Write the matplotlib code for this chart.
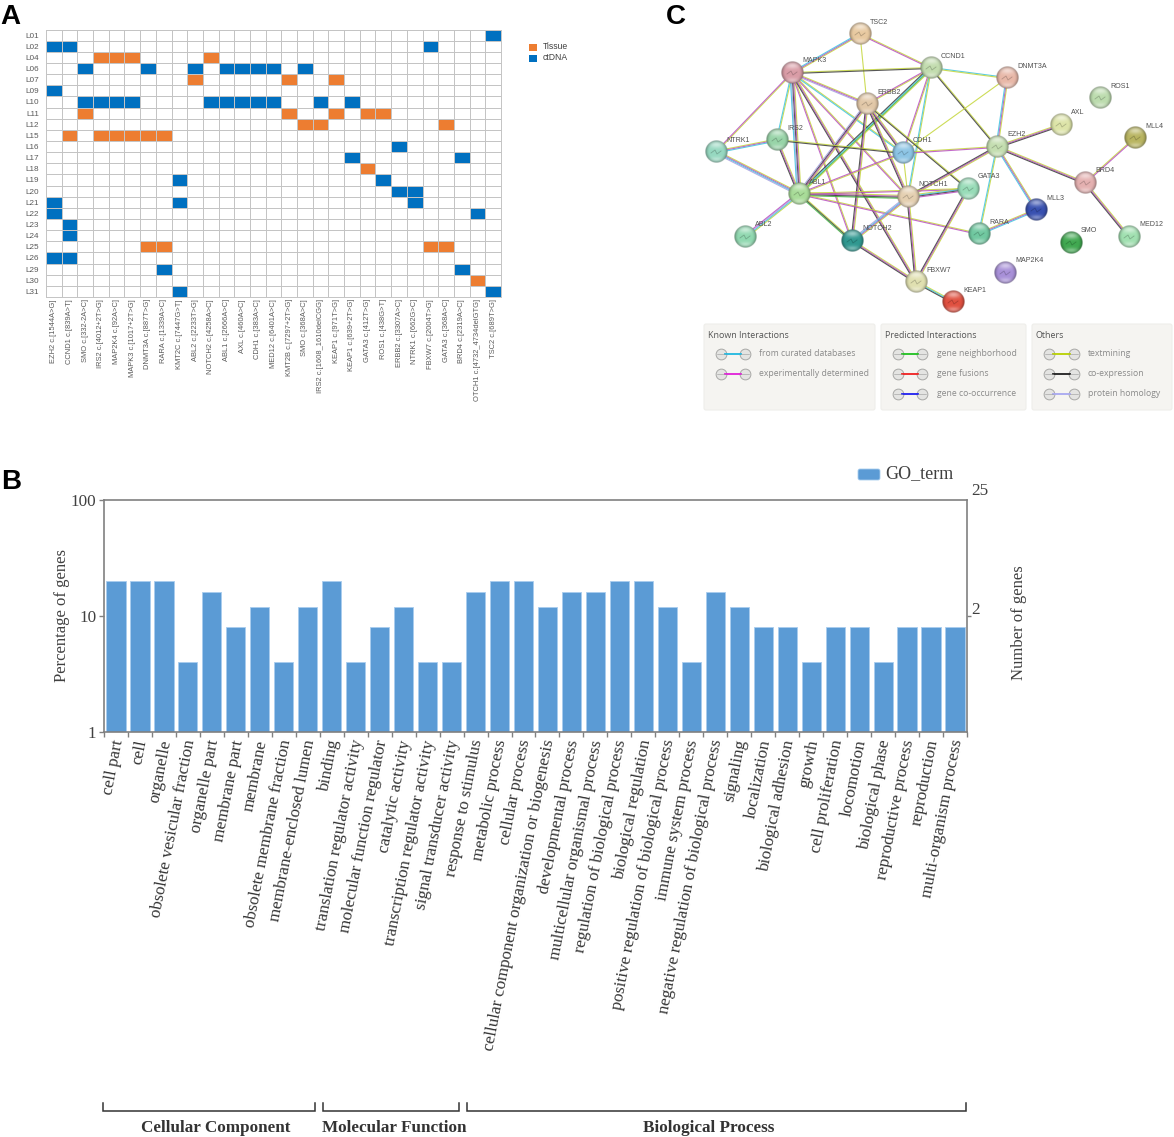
#!/usr/bin/env python3
"""Three panel figure: mutation heatmap, STRING style network, GO term bars."""
import numpy as np
import matplotlib
matplotlib.use("Agg")
import matplotlib.pyplot as plt
from matplotlib.colors import ListedColormap, to_rgb
from matplotlib.patches import FancyBboxPatch, Rectangle

W, H = 1174, 1137

# panel A
samples = ["L01", "L02", "L04", "L06", "L07", "L09", "L10", "L11", "L12", "L15", "L16", "L17",
           "L18", "L19", "L20", "L21", "L22", "L23", "L24", "L25", "L26", "L29", "L30", "L31"]
variants = ["EZH2 c.[1544A>G]", "CCND1 c.[839A>T]", "SMO c.[332-2A>C]", "IRS2 c.[4012+2T>G]",
            "MAP2K4 c.[92A>C]", "MAPK3 c.[1017+2T>G]", "DNMT3A c.[887T>G]", "RARA c.[1339A>C]",
            "KMT2C c.[7447G>T]", "ABL2 c.[2233T>G]", "NOTCH2 c.[4258A>C]", "ABL1 c.[2666A>C]",
            "AXL c.[460A>C]", "CDH1 c.[383A>C]", "MED12 c.[6401A>C]", "KMT2B c.[7297+2T>G]",
            "SMO c.[368A>C]", "IRS2 c.[1608_1610delCGG]", "KEAP1 c.[971T>G]", "KEAP1 c.[639+2T>G]",
            "GATA3 c.[412T>G]", "ROS1 c.[438G>T]", "ERBB2 c.[3307A>C]", "NTRK1 c.[662G>C]",
            "FBXW7 c.[2004T>G]", "GATA3 c.[368A>C]", "BRD4 c.[2319A>C]", "OTCH1 c.[4732_4734delGTG]",
            "TSC2 c.[689T>G]"]
tissue = {"L04": [3, 4, 5, 10], "L07": [9, 15, 18], "L11": [2, 15, 18, 20, 21],
          "L12": [16, 17, 25], "L15": [1, 3, 4, 5, 6, 7], "L18": [20], "L25": [6, 7, 24, 25],
          "L30": [27]}
ctdna = {"L01": [28], "L02": [0, 1, 24], "L06": [2, 6, 9, 11, 12, 13, 14, 16], "L09": [0],
         "L10": [2, 3, 4, 5, 10, 11, 12, 13, 14, 17, 19], "L16": [22], "L17": [19, 26],
         "L19": [8, 21], "L20": [22, 23], "L21": [0, 8, 23], "L22": [0, 27], "L23": [1],
         "L24": [1], "L26": [0, 1], "L29": [7, 26], "L31": [8, 28]}

# panel C
node_names = ["TSC2", "MAPK3", "CCND1", "DNMT3A", "ERBB2", "ROS1", "AXL", "MLL4", "NTRK1", "IRS2",
              "CDH1", "EZH2", "BRD4", "ABL1", "NOTCH1", "GATA3", "MLL3", "RARA", "ABL2", "NOTCH2",
              "MED12", "SMO", "MAP2K4", "FBXW7", "KEAP1"]
node_x = [860, 792, 931, 1007, 867, 1100, 1061, 1135, 716, 777, 903, 997, 1085, 799, 908, 968,
          1036, 979, 745, 852, 1129, 1071, 1005, 916, 953]
node_y = [34, 73, 68, 78, 104, 98, 125, 138, 152, 140, 153, 147, 183, 194, 197, 189, 210, 234,
          237, 241, 237, 243, 273, 282, 302]
node_colors = ["#e8c9a0", "#d99ca6", "#c2dcae", "#e8b8a8", "#e2c8a8", "#bcdcae", "#dde4a8",
               "#b8b460", "#96d8c0", "#98d4a8", "#8cc4e4", "#c4deb0", "#e4b0b0", "#a8dc98",
               "#e4cfb0", "#98dcb8", "#3850b0", "#70c8a0", "#90d8b0", "#309890", "#a0e0b0",
               "#40a850", "#a890d8", "#e0e0b0", "#e05040"]
# evidence letters: y text mining, m experiments, c databases, k co-expression,
# h homology, g neighborhood
edges = [("TSC2", "MAPK3", "ymc"), ("TSC2", "ERBB2", "y"), ("TSC2", "CCND1", "ym"),
         ("MAPK3", "CCND1", "yk"), ("MAPK3", "ERBB2", "ymh"), ("MAPK3", "CDH1", "yc"),
         ("MAPK3", "NOTCH1", "ym"), ("MAPK3", "NTRK1", "ym"), ("MAPK3", "IRS2", "yc"),
         ("MAPK3", "ABL1", "ymkhc"), ("MAPK3", "NOTCH2", "ym"), ("MAPK3", "FBXW7", "ymk"),
         ("CCND1", "DNMT3A", "cy"), ("CCND1", "ERBB2", "ym"), ("CCND1", "ABL1", "ygck"),
         ("CCND1", "NOTCH1", "yc"), ("CCND1", "CDH1", "ym"), ("CCND1", "EZH2", "yk"),
         ("DNMT3A", "EZH2", "ymc"), ("DNMT3A", "CDH1", "y"), ("ERBB2", "ABL1", "ymkh"),
         ("ERBB2", "NOTCH2", "ymk"), ("ERBB2", "CDH1", "ymk"), ("ERBB2", "NOTCH1", "ymk"),
         ("ERBB2", "GATA3", "yk"), ("NTRK1", "IRS2", "ymc"), ("NTRK1", "ABL1", "ymch"),
         ("IRS2", "CDH1", "yk"), ("IRS2", "ABL1", "ymk"), ("CDH1", "EZH2", "ym"),
         ("CDH1", "ABL1", "ym"), ("CDH1", "NOTCH1", "y"), ("EZH2", "AXL", "ymk"),
         ("EZH2", "BRD4", "ymk"), ("EZH2", "MLL3", "ymc"), ("EZH2", "RARA", "yc"),
         ("EZH2", "NOTCH1", "ymk"), ("BRD4", "MLL4", "ym"), ("BRD4", "MED12", "ymk"),
         ("ABL1", "NOTCH1", "ymkg"), ("ABL1", "GATA3", "ym"), ("ABL1", "ABL2", "ychm"),
         ("ABL1", "NOTCH2", "ykg"), ("ABL1", "RARA", "ym"), ("NOTCH1", "GATA3", "yckm"),
         ("NOTCH1", "NOTCH2", "ymch"), ("NOTCH1", "FBXW7", "ymk"), ("GATA3", "FBXW7", "ymk"),
         ("NOTCH2", "FBXW7", "ymk"), ("RARA", "MLL3", "ymc"), ("FBXW7", "KEAP1", "yck")]
stripe_colors = {"y": "#c4d63a", "m": "#b84fc0", "c": "#40c4e0", "k": "#3a3a3a",
                 "h": "#a6a0e0", "g": "#40b040"}
legend_groups = [
    ("Known Interactions", [("from curated databases", "#20b8e0"),
                            ("experimentally determined", "#e020d8")]),
    ("Predicted Interactions", [("gene neighborhood", "#20c020"), ("gene fusions", "#f02020"),
                                ("gene co-occurrence", "#2020f0")]),
    ("Others", [("textmining", "#b8d000"), ("co-expression", "#202020"),
                ("protein homology", "#a8a8f0")]),
]

# panel B
go_terms = ["cell part", "cell", "organelle", "obsolete vesicular fraction", "organelle part",
            "membrane part", "membrane", "obsolete membrane fraction", "membrane-enclosed lumen",
            "binding", "translation regulator activity", "molecular function regulator",
            "catalytic activity", "transcription regulator activity", "signal transducer activity",
            "response to stimulus", "metabolic process", "cellular process",
            "cellular component organization or biogenesis", "developmental process",
            "multicellular organismal process", "regulation of biological process",
            "biological regulation", "positive regulation of biological process",
            "immune system process", "negative regulation of biological process", "signaling",
            "localization", "biological adhesion", "growth", "cell proliferation", "locomotion",
            "biological phase", "reproductive process", "reproduction", "multi-organism process"]
go_percent = [20, 20, 20, 4, 16, 8, 12, 4, 12, 20, 4, 8, 12, 4, 4, 16, 20, 20, 12, 16, 16, 20, 20,
              12, 4, 16, 12, 8, 8, 4, 8, 8, 4, 8, 8, 8]

SANS = "Liberation Sans"
SERIF = "Liberation Serif"
ORANGE = "#ed7d31"
BLUE = "#0070c0"
BAR = "#5b9bd5"


def px_axes(fig, left, top, right, bottom):
    return fig.add_axes([left / W, 1 - bottom / H, (right - left) / W, (bottom - top) / H])


def draw_heatmap(fig, page):
    ax = px_axes(fig, 46, 29.5, 501, 297)
    grid = np.zeros((len(samples), len(variants)))
    for sample, cols in tissue.items():
        grid[samples.index(sample), cols] = 1
    for sample, cols in ctdna.items():
        grid[samples.index(sample), cols] = 2
    ax.pcolormesh(grid, cmap=ListedColormap(["white", ORANGE, BLUE]), vmin=0, vmax=2,
                  edgecolors="#c4c4c4", linewidth=0.7)
    ax.invert_yaxis()
    ax.set_yticks(np.arange(len(samples)) + 0.5, samples, fontsize=5.9, color="#595959",
                  fontfamily=SANS)
    ax.set_xticks(np.arange(len(variants)) + 0.5)
    ax.set_xticklabels(variants, rotation=90, fontsize=5.4, color="#595959", fontfamily=SANS)
    ax.tick_params(axis="x", length=0, pad=1.5)
    ax.tick_params(axis="y", length=0, pad=5)
    for spine in ax.spines.values():
        spine.set_color("#c4c4c4")
        spine.set_linewidth(0.7)

    for label, color, y in (("Tissue", ORANGE, 47.5), ("ctDNA", BLUE, 58)):
        page.add_patch(Rectangle((529, y - 3.5), 8, 7, color=color, lw=0))
        page.text(543, y - 1, label, fontsize=6.2, color="#404040", family=SANS, va="center")


def sphere_image(color, size=48):
    yy, xx = np.mgrid[-1:1:size * 1j, -1:1:size * 1j]
    rr = np.hypot(xx, yy)
    base = np.array(to_rgb(color))
    # dark rim, white glare on the upper part, soft bounce light at the bottom
    rim = np.clip((rr - 0.6) / 0.4, 0, 1) ** 2
    glare = np.exp(-((xx / 0.62) ** 2 + ((yy + 0.62) / 0.3) ** 2))
    bounce = np.exp(-((xx / 0.6) ** 2 + ((yy - 0.7) / 0.22) ** 2))
    rgb = base[None, None, :] * (1 - 0.42 * rim[..., None])
    rgb = rgb + (1 - rgb) * (0.5 * glare + 0.35 * bounce)[..., None]
    alpha = np.clip((1 - rr) * size / 2, 0, 1)
    return np.dstack([rgb, alpha])


def draw_network(page):
    xy = {name: (x, y) for name, x, y in zip(node_names, node_x, node_y)}
    for a, b, kinds in edges:
        x0, y0 = xy[a]
        x1, y1 = xy[b]
        length = np.hypot(x1 - x0, y1 - y0)
        nx, ny = -(y1 - y0) / length, (x1 - x0) / length
        for i, kind in enumerate(kinds):
            off = (i - (len(kinds) - 1) / 2) * 1.0
            page.plot([x0 + nx * off, x1 + nx * off], [y0 + ny * off, y1 + ny * off],
                      color=stripe_colors[kind], lw=0.8, alpha=0.85, zorder=2)

    radius = 11.5
    for name, x, y, color in zip(node_names, node_x, node_y, node_colors):
        page.imshow(sphere_image(color), extent=(x - radius, x + radius, y + radius, y - radius),
                    aspect="auto", zorder=3, interpolation="bilinear")
        dark = tuple(c * 0.6 for c in to_rgb(color))
        page.plot([x - 5, x - 1, x + 1, x + 5], [y + 1, y - 2, y + 2, y - 1], color=dark, lw=0.6,
                  alpha=0.55, zorder=4)
        page.text(x + 10, y - 12, name, fontsize=5.1, color="#505050", family=SANS, va="center",
                  zorder=5)


def draw_string_legend(page):
    boxes = [(704, 875), (881, 1026), (1032, 1172)]
    ball_x = [(721, 745), (898, 922), (1049, 1074)]
    text_x = [759, 937, 1088]
    for (title, rows), (left, right), (b0, b1), tx in zip(legend_groups, boxes, ball_x, text_x):
        page.add_patch(FancyBboxPatch((left, 324), right - left, 86, boxstyle="round,pad=0,rounding_size=2",
                                      fc="#f5f4f1", ec="#eeeeea", lw=0.8, zorder=1))
        page.text(left + 4, 335, title, fontsize=6.4, color="#555555", family="Open Sans",
                  va="center", zorder=2)
        for i, (label, color) in enumerate(rows):
            y = 354 + i * 20
            page.scatter([b0, b1], [y, y], s=60, fc="#e4e4e2", ec="#a8a8a6", lw=0.7, zorder=2)
            page.plot([b0 + 4, b1 - 4], [y, y], color=color, lw=1.3, zorder=3)
            page.plot([b0 - 4, b0 + 4], [y - 0.5, y - 0.5], color="#999999", lw=0.4, zorder=4)
            page.plot([b1 - 4, b1 + 4], [y - 0.5, y - 0.5], color="#999999", lw=0.4, zorder=4)
            page.text(tx, y, label, fontsize=6.2, color="#8a8a8a", family="Open Sans", va="center",
                      zorder=2)


def draw_go_bars(fig, page):
    ax = px_axes(fig, 104, 500, 967, 731.5)
    x = np.arange(len(go_terms))
    ax.bar(x, go_percent, width=0.8, color=BAR, edgecolor="#a9cdee", linewidth=0.6)
    ax.set_yscale("log")
    ax.set_ylim(1, 100)
    ax.set_xlim(-0.5, len(go_terms) - 0.5)
    ax.set_yticks([1, 10, 100], ["1", "10", "100"], fontsize=12.3, color="#404040", fontfamily=SERIF)
    ax.minorticks_off()
    # tick label positions get reset on draw, so the slanted labels are annotations
    ax.set_xticks(np.arange(len(go_terms) + 1) - 0.5, [""] * (len(go_terms) + 1))
    for xi, term in zip(x, go_terms):
        ax.annotate(term, (xi, 0), xycoords=ax.get_xaxis_transform(), xytext=(1.8, -6),
                    textcoords="offset points", rotation=79, ha="right", va="center",
                    rotation_mode="anchor", fontsize=12.3, color="#333333", family=SERIF)
    ax.tick_params(axis="x", length=3.5, width=1, color="#808080")
    ax.tick_params(axis="y", length=3.5, width=1, color="#808080", pad=2)
    for spine in ax.spines.values():
        spine.set_color("#808080")
        spine.set_linewidth(1.2)

    right = ax.twinx()
    right.set_yscale("log")
    right.set_ylim(1, 100)
    right.set_yticks([10], [""])
    right.minorticks_off()
    right.tick_params(length=3, width=1, color="#808080")
    for spine in right.spines.values():
        spine.set_visible(False)

    page.text(62, 616, "Percentage of genes", rotation=90, fontsize=12, color="#404040",
              family=SERIF, ha="center", va="center")
    page.text(1019, 623, "Number of genes", rotation=90, fontsize=12, color="#404040",
              family=SERIF, ha="center", va="center")
    page.text(971, 491, "25", fontsize=12.3, color="#404040", family=SERIF, va="center")
    page.text(971, 610, "2", fontsize=12.3, color="#404040", family=SERIF, va="center")

    page.add_patch(FancyBboxPatch((858, 469), 22, 11, boxstyle="round,pad=0,rounding_size=2",
                                  fc=BAR, ec="#a9cdee", lw=0.6))
    page.text(885, 474, "GO_term", fontsize=13, color="#404040", family=SERIF, va="center")

    groups = [(103, 315, "Cellular Component", 216), (323, 459, "Molecular Function", 394),
              (467, 966, "Biological Process", 709)]
    for left, right_x, label, cx in groups:
        page.plot([left, left, right_x, right_x], [1103, 1110.5, 1110.5, 1103], color="#333333",
                  lw=1.1, solid_joinstyle="miter")
        page.text(cx, 1126, label, fontsize=12.3, fontweight="bold", color="#333333", family=SERIF,
                  ha="center", va="center_baseline")


def main():
    fig = plt.figure(figsize=(W / 100, H / 100), dpi=100, facecolor="white")
    # whole figure overlay in pixel coordinates for the free standing annotations
    page = fig.add_axes([0, 0, 1, 1], zorder=5)
    page.patch.set_alpha(0)
    page.axis("off")

    draw_heatmap(fig, page)
    draw_network(page)
    draw_string_legend(page)
    draw_go_bars(fig, page)

    for letter, x, y in (("A", 0, 24), ("B", 1, 489), ("C", 666, 24)):
        page.text(x, y, letter, fontsize=20, fontweight="bold", family=SANS, color="black", va="baseline")

    page.set_xlim(0, W)
    page.set_ylim(H, 0)
    fig.savefig("out.png", dpi=100)


if __name__ == "__main__":
    main()
